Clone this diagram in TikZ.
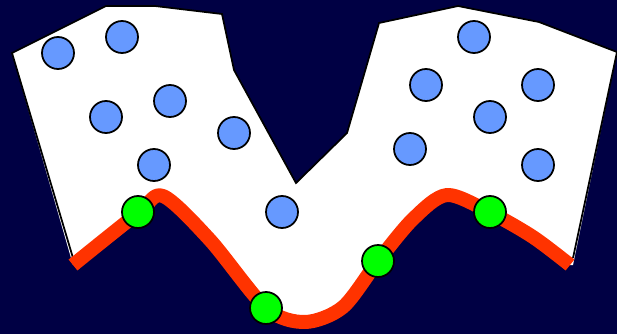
\documentclass[tikz,border=0pt]{standalone}
\usepackage{xcolor}
\definecolor{nightblue}{RGB}{0,0,68}
\definecolor{pointblue}{RGB}{102,153,255}
\definecolor{ridgered}{RGB}{255,51,0}
\definecolor{supportgreen}{RGB}{0,255,0}

\begin{document}
\begin{tikzpicture}[
        x=0.02cm, y=-0.02cm,
        sample/.style={circle, draw=black, line width=1pt, minimum size=0.64cm, inner sep=0pt, fill=#1},
        boundary/.style={ridgered, line width=0.28cm, line join=round}
    ]
        % Background
        \useasboundingbox (0,0) rectangle (617,334);
        \fill[nightblue] (0,0) rectangle (617,334);

        % Region, closed below by the curve
        \fill[white] (73,265) -- (12,53) -- (106,6) -- (155,6) -- (222,14) -- (234,70) -- (296,183)
            -- (347,133) -- (379,23) -- (458,6) -- (539,22) -- (617,52) -- (573,265)
            -- plot[smooth] coordinates {(570,265) (533,237) (491,213) (447,195) (413,219) (378,261) (343,307) (305,322) (266,308) (210,240) (163,196) (138,213) (73,265)}
            -- cycle;
        \draw[line width=1pt] (73,258) -- (12,53) -- (106,6) -- (155,6) -- (222,14) -- (234,70) -- (296,183)
            -- (347,133) -- (379,23) -- (458,6) -- (539,22) -- (617,52) -- (573,258);

        % Curve
        \draw[boundary] plot[smooth] coordinates {(73,265) (138,213) (163,196) (210,240) (266,308) (305,322) (343,307) (378,261) (413,219) (447,195) (491,213) (533,237) (570,265)};

        % Blue points
        \foreach \px/\py [count=\k] in {58/53, 122/37, 106/117, 170/101, 234/133, 154/165, 282/212, 474/37, 426/85, 538/85, 490/117, 410/149, 538/165} {
            \node[sample=pointblue] (p\k) at (\px,\py) {};
        }

        % Green points on the curve
        \foreach \px/\py [count=\k] in {138/212, 266/308, 378/261, 490/212} {
            \node[sample=supportgreen] (s\k) at (\px,\py) {};
        }

    \end{tikzpicture}
\end{document}
